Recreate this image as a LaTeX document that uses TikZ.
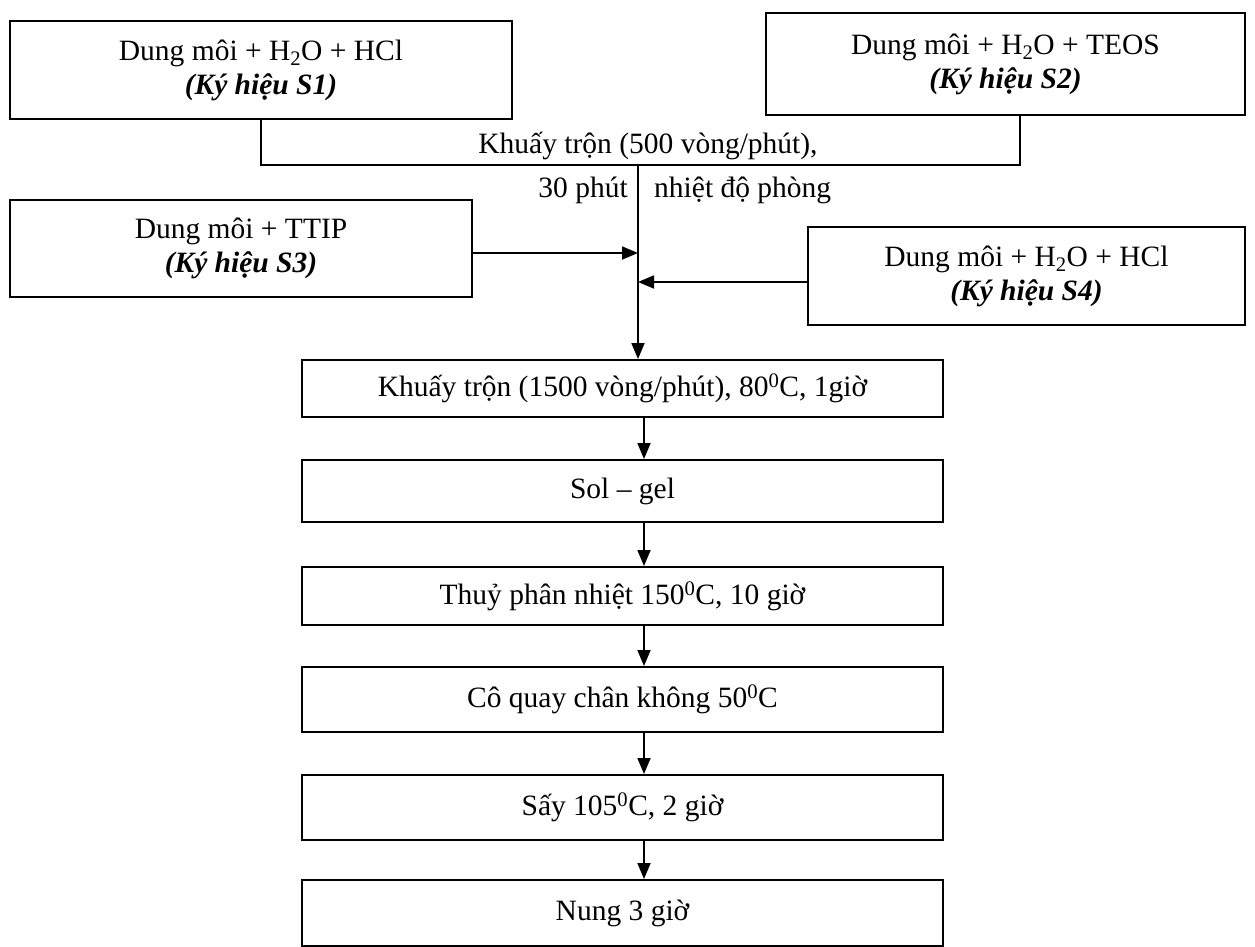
\documentclass[tikz,border=0pt]{standalone}
\usepackage{fontspec}
\setmainfont{Liberation Serif}
\usetikzlibrary{arrows.meta}
\tikzset{
  box/.style={draw, line width=2pt, align=center, inner sep=2pt,
    font=\fontsize{29.5}{34}\selectfont},
  conn/.style={line width=1.8pt},
  arr/.style={line width=1.8pt, -{Triangle[length=16pt,width=13pt]}},
  lbl/.style={font=\fontsize{29.5}{34}\selectfont, inner sep=0pt}
}
\begin{document}
\begin{tikzpicture}[x=1pt,y=-1pt]
\useasboundingbox (0,0) rectangle (1255,947);
\node[box, minimum width=502pt, minimum height=98pt] (S1) at (261,70)
  {Dung môi + H\textsubscript{2}O + HCl\\ \textbf{\textit{(Ký hiệu S1)}}};
\node[box, minimum width=479pt, minimum height=102pt] (S2) at (1005.5,64)
  {Dung môi + H\textsubscript{2}O + TEOS\\ \textbf{\textit{(Ký hiệu S2)}}};
\node[box, minimum width=462pt, minimum height=97pt] (S3) at (241,248)
  {Dung môi + TTIP\\ \textbf{\textit{(Ký hiệu S3)}}};
\node[box, minimum width=437pt, minimum height=98pt] (S4) at (1026.5,276)
  {Dung môi + H\textsubscript{2}O + HCl\\ \textbf{\textit{(Ký hiệu S4)}}};
\node[box, minimum width=641pt, minimum height=57pt] (K) at (622.5,388.5)
  {Khuấy trộn (1500 vòng/phút), 80\textsuperscript{0}C, 1giờ};
\node[box, minimum width=641pt, minimum height=62pt] (SG) at (622.5,491)
  {Sol – gel};
\node[box, minimum width=641pt, minimum height=58pt] (TP) at (622.5,596)
  {Thuỷ phân nhiệt 150\textsuperscript{0}C, 10 giờ};
\node[box, minimum width=641pt, minimum height=65pt] (CQ) at (622.5,699.5)
  {Cô quay chân không 50\textsuperscript{0}C};
\node[box, minimum width=641pt, minimum height=65pt] (SY) at (622.5,807.5)
  {Sấy 105\textsuperscript{0}C, 2 giờ};
\node[box, minimum width=641pt, minimum height=66pt] (NG) at (622.5,913)
  {Nung 3 giờ};
\coordinate (j) at (638,165);
\coordinate (r) at (1020,165);
\coordinate (m) at (644,0);
\node[lbl] (t1) at (648,146) {Khuấy trộn (500 vòng/phút),};
\node[lbl, anchor=east] (t2) at (628,190) {30 phút};
\node[lbl, anchor=west] (t3) at (654,190) {nhiệt độ phòng};
\draw[conn] (S1.south) |- (r) -- (r |- S2.south);
\draw[arr] (j) -- (j |- K.north);
\draw[arr] ([yshift=-5pt]S3.east) -- ([yshift=-5pt]S3.east -| j);
\draw[arr] ([yshift=-6pt]S4.west) -- ([yshift=-6pt]S4.west -| j);
\draw[arr] (K.south -| m) -- (SG.north -| m);
\draw[arr] (SG.south -| m) -- (TP.north -| m);
\draw[arr] (TP.south -| m) -- (CQ.north -| m);
\draw[arr] (CQ.south -| m) -- (SY.north -| m);
\draw[arr] (SY.south -| m) -- (NG.north -| m);
\end{tikzpicture}
\end{document}
